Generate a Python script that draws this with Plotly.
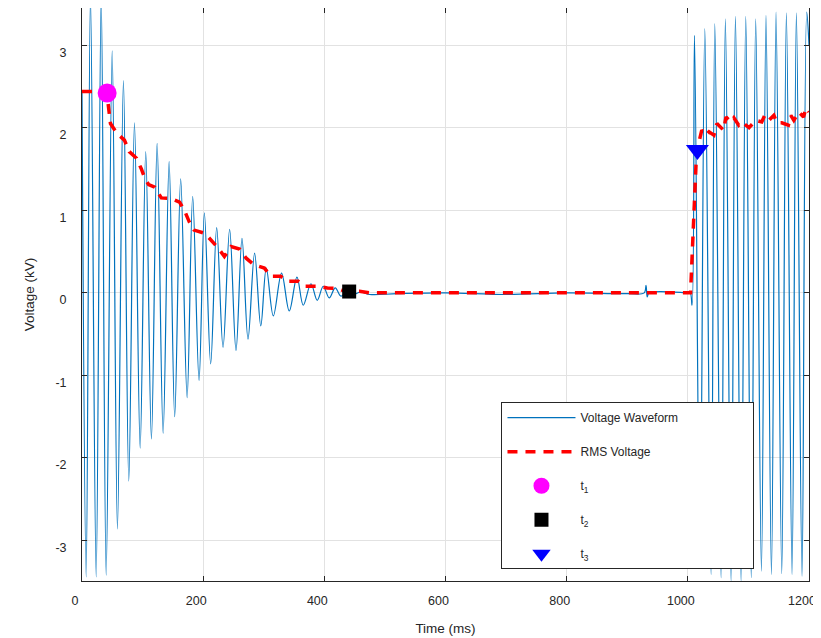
import plotly.graph_objects as go

# ---- Voltage waveform: extreme points (peaks/troughs) ----
wave_t = [0, 6.9, 14.0, 23.4, 31.7, 39.9, 49.8, 58.5, 68.4, 77.2, 86.6, 96.0, 105.2, 114.6,
          124.0, 133.9, 143.8, 153.0, 162.9, 173.5, 182.7, 193.2, 202.0, 212.4, 222.3, 232.8,
          243.7, 254.2, 264.1, 274.0, 284.9, 295.1, 304.2, 315.8, 329.4, 342.1, 354.8, 365.2,
          377.9, 388.3, 398.2, 408.1, 418.0, 427.4, 437.8, 448, 460, 475, 520, 600, 700, 800,
          900, 928, 931, 933, 936, 1000, 1004, 1007, 1011, 1020, 1028, 1038.4, 1044.5, 1054.9,
          1062, 1071.4, 1078.6, 1087.9, 1095.6, 1104.7, 1112, 1121.5, 1129, 1138, 1145.6,
          1155, 1162.7, 1172, 1179.2, 1188.5, 1196.2, 1200]
wave_v = [2.44, -3.44, 3.6, -3.44, 3.6, -3.42, 2.93, -2.86, 2.57, -2.28, 2.06, -1.88, 1.71, -1.77,
          1.81, -1.70, 1.59, -1.50, 1.38, -1.27, 1.17, -1.06, 0.97, -0.86, 0.79, -0.66,
          0.77, -0.70, 0.66, -0.56, 0.48, -0.40, 0.30, -0.28, 0.24, -0.22, 0.19, -0.15,
          0.11, -0.09, 0.08, -0.06, 0.06, -0.04, 0.02, -0.02, 0.01, -0.02, -0.01, 0.0, -0.02, 0.0,
          -0.01, 0.0, 0.09, -0.05, 0.0, 0.0, 0.0, -0.15, 3.12, -3.30, 3.20, -3.41, 3.26, -3.45,
          3.32, -3.49, 3.35, -3.49, 3.35, -3.45, 3.32, -3.37, 3.36, -3.41, 3.40,
          -3.40, 3.39, -3.41, 3.39, -3.43, 3.40, 3.0]

# ---- RMS voltage ----
rms_t = [0, 38, 42.5, 47, 58, 70, 78, 90, 98, 103, 110, 120, 131, 148, 161, 169, 177, 185,
         203, 213, 225, 235, 246, 260, 271, 284, 301, 312, 328, 339, 357, 368, 388, 405,
         423, 430, 441, 458, 474, 510, 1004.5, 1013.5, 1016, 1023, 1030, 1035, 1043, 1048,
         1059, 1063, 1071, 1076, 1084, 1089, 1101, 1112, 1122, 1127, 1134, 1142, 1147,
         1155, 1166, 1170, 1175, 1183, 1191, 1195, 1200]
rms_v = [2.44, 2.44, 2.33, 2.05, 1.93, 1.85, 1.71, 1.63, 1.50, 1.40, 1.31, 1.28, 1.15, 1.14,
         1.10, 1.00, 0.86, 0.76, 0.72, 0.64, 0.54, 0.44, 0.56, 0.53, 0.42, 0.34, 0.30, 0.20,
         0.20, 0.14, 0.14, 0.08, 0.08, 0.06, 0.05, 0.03, 0.016, 0.02, 0.0, 0.0, 0.0, 1.55,
         1.75, 1.97, 1.91, 1.95, 1.91, 2.05, 1.97, 2.13, 2.07, 2.12, 2.03, 2.07, 2.0, 2.09,
         2.07, 2.15, 2.09, 2.15, 2.06, 2.06, 2.03, 2.15, 2.09, 2.19, 2.13, 2.24, 2.19]

# ---- event markers ----
t1_t, t1_v = [41.5], [2.42]
t2_t, t2_v = [441], [0.016]
t3_t, t3_v = [1015.8], [1.73]

x_ticks = [0, 200, 400, 600, 800, 1000, 1200]
x_labels = ["0", "200", "400", "600", "800", "1000", "1200"]
y_ticks = [-3, -2, -1, 0, 1, 2, 3]
y_labels = ["-3", "-2", "-1", "0", "1", "2", "3"]

FONT = "Liberation Sans, Arial, sans-serif"
TXT = "#262626"
PAD = "\u00a0" * 21   # widens the legend box like the reference

fig = go.Figure()
fig.add_trace(go.Scatter(x=wave_t, y=wave_v, mode="lines", name="Voltage Waveform" + PAD,
                         line=dict(color="#0072BD", width=1.2, shape="spline", smoothing=1),
                         legendgroup="a"))
fig.add_trace(go.Scatter(x=rms_t, y=rms_v, mode="lines", name="RMS Voltage",
                         line=dict(color="#FF0000", width=3.5, dash="10px,8px"),
                         legendgroup="b"))
fig.add_trace(go.Scatter(x=t1_t, y=t1_v, mode="markers", name="t<sub>1</sub>",
                         marker=dict(symbol="circle", size=19, color="#FF00FF"),
                         legendgroup="c"))
fig.add_trace(go.Scatter(x=t2_t, y=t2_v, mode="markers", name="t<sub>2</sub>",
                         marker=dict(symbol="square", size=14, color="#000000"),
                         legendgroup="d"))
fig.add_trace(go.Scatter(x=t3_t, y=t3_v, mode="markers", name="t<sub>3</sub>",
                         marker=dict(symbol="triangle-down", size=20, color="#0000FF"),
                         legendgroup="e"))

axis_common = dict(showline=True, linecolor=TXT, linewidth=1, mirror="ticks",
                   ticks="inside", ticklen=5, tickcolor=TXT, showgrid=True,
                   gridcolor="#e2e2e2", gridwidth=1, zeroline=False, automargin=False,
                   tickfont=dict(family=FONT, size=12.5, color=TXT))

# page body has an 8px default margin, so the figure is sized/offset to compensate
fig.update_layout(
    width=813, height=630,
    margin=dict(l=74, r=12, t=0, b=57),
    paper_bgcolor="white", plot_bgcolor="white",
    font=dict(family=FONT, color=TXT),
    xaxis=dict(range=[0, 1200], tickvals=x_ticks, ticktext=x_labels,
               title=dict(text="Time (ms)", font=dict(family=FONT, size=13.5, color=TXT), standoff=16),
               ticklabelshift=-7, ticklabelstandoff=8, **axis_common),
    yaxis=dict(range=[-3.49, 3.45], tickvals=y_ticks, ticktext=y_labels,
               title=dict(text="Voltage (kV)", font=dict(family=FONT, size=13.5, color=TXT), standoff=17),
               ticklabelshift=7, ticklabelstandoff=12, **axis_common),
    showlegend=True,
    legend=dict(x=0.577, y=0.312, xanchor="left", yanchor="top",
                bgcolor="white", bordercolor=TXT, borderwidth=1,
                font=dict(family=FONT, size=12, color=TXT),
                tracegroupgap=15, itemwidth=68,
                traceorder="grouped"),
)

fig.write_html("out.html")
